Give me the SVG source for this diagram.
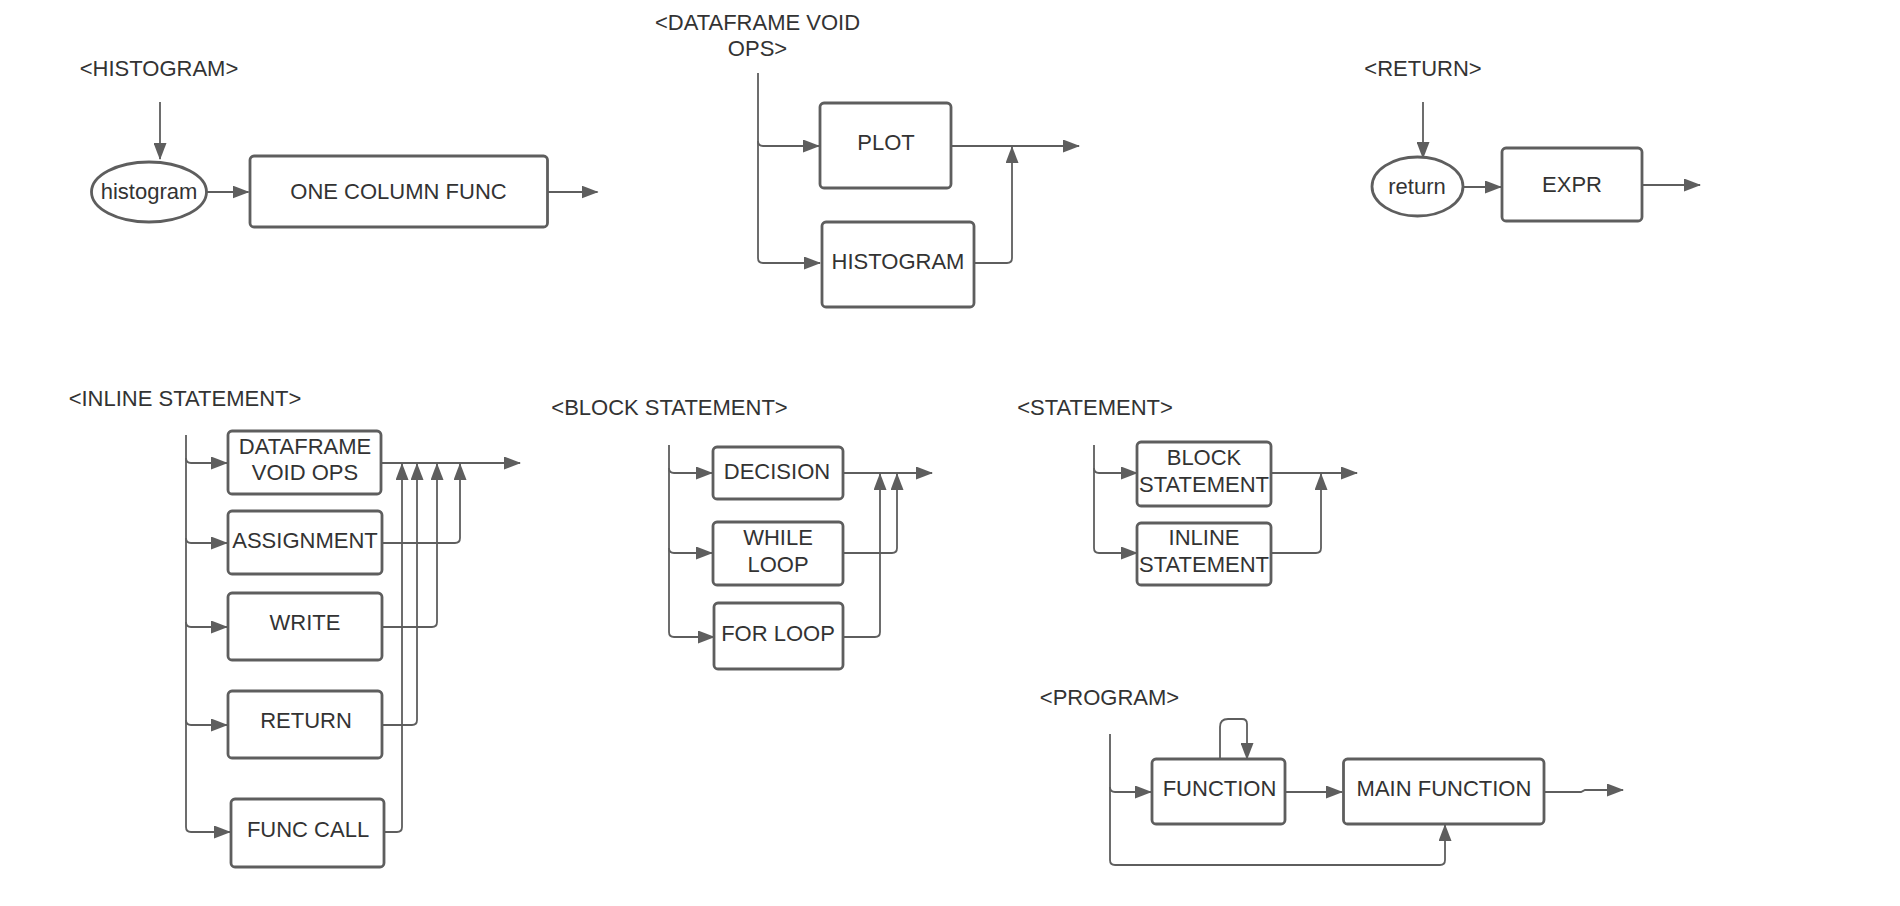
<svg xmlns="http://www.w3.org/2000/svg" width="1900" height="906" viewBox="0 0 1900 906">
<style>
text{font-family:"Liberation Sans",Arial,sans-serif;font-size:22px;fill:#333333}
.c{text-anchor:middle}
.box{fill:#ffffff;stroke:#5e5e5e;stroke-width:2.8}
.con path{fill:none;stroke:#5e5e5e;stroke-width:1.8}
.con path.a{marker-end:url(#ah)}
</style>
<defs>
<marker id="ah" markerUnits="userSpaceOnUse" markerWidth="17" markerHeight="13" refX="16" refY="6.5" orient="auto">
<path d="M0,0 L17,6.5 L0,13 z" fill="#5e5e5e"/>
</marker>
</defs>
<rect width="1900" height="906" fill="#ffffff"/>

<g id="headers">
<text class="c" x="159" y="76">&lt;HISTOGRAM&gt;</text>
<text class="c" x="757.5" y="30">&lt;DATAFRAME VOID</text>
<text class="c" x="757.5" y="56">OPS&gt;</text>
<text class="c" x="1423" y="76">&lt;RETURN&gt;</text>
<text class="c" x="185" y="406">&lt;INLINE STATEMENT&gt;</text>
<text class="c" x="669.5" y="415">&lt;BLOCK STATEMENT&gt;</text>
<text class="c" x="1095" y="415">&lt;STATEMENT&gt;</text>
<text class="c" x="1109.5" y="705">&lt;PROGRAM&gt;</text>
</g>

<g id="connectors" class="con">
<!-- histogram -->
<path class="a" d="M160,102 V159"/>
<path class="a" d="M206.5,192 H248.5"/>
<path class="a" d="M547.5,192 H597.5"/>
<!-- dataframe void ops -->
<path class="a" d="M758,73 V258 Q758,263 763,263 H820"/>
<path class="a" d="M758,141 Q758,146 763,146 H819"/>
<path class="a" d="M951,146 H1079"/>
<path class="a" d="M974,263 H1007 Q1012,263 1012,258 V147"/>
<!-- return -->
<path class="a" d="M1423,102 V158"/>
<path class="a" d="M1463,187 H1501"/>
<path class="a" d="M1642,185 H1700"/>
<!-- inline statement -->
<path class="a" d="M186,435 V827 Q186,832 191,832 H230"/>
<path class="a" d="M186,458 Q186,463 191,463 H227"/>
<path class="a" d="M186,538 Q186,543 191,543 H227"/>
<path class="a" d="M186,622 Q186,627 191,627 H227"/>
<path class="a" d="M186,720 Q186,725 191,725 H227"/>
<path class="a" d="M381,463 H520"/>
<path class="a" d="M382,543 H455 Q460,543 460,538 V464"/>
<path class="a" d="M382,627 H432 Q437,627 437,622 V464"/>
<path class="a" d="M382,725 H412 Q417,725 417,720 V464"/>
<path class="a" d="M384,832 H397 Q402,832 402,827 V464"/>
<!-- block statement -->
<path class="a" d="M669,445 V632 Q669,637 674,637 H714"/>
<path class="a" d="M669,468 Q669,473 674,473 H712"/>
<path class="a" d="M669,548 Q669,553 674,553 H712"/>
<path class="a" d="M843,473 H932"/>
<path class="a" d="M843,553 H892 Q897,553 897,548 V474"/>
<path class="a" d="M843,637 H875 Q880,637 880,632 V474"/>
<!-- statement -->
<path class="a" d="M1094,445 V548 Q1094,553 1099,553 H1137"/>
<path class="a" d="M1094,468 Q1094,473 1099,473 H1137"/>
<path class="a" d="M1271,473 H1357"/>
<path class="a" d="M1271,553 H1316 Q1321,553 1321,548 V474"/>
<!-- program -->
<path class="a" d="M1110,734 V787 Q1110,792 1115,792 H1151"/>
<path class="a" d="M1110,787 V860 Q1110,865 1115,865 H1440 Q1445,865 1445,860 V825"/>
<path class="a" d="M1220,759 V727 Q1220,719 1228,719 H1242 Q1247,719 1247,724 V759"/>
<path class="a" d="M1285,792 H1342"/>
<path class="a" d="M1544,792 H1581 L1585,790 H1623"/>
</g>

<g id="n-histogram-kw"><ellipse class="box" cx="149" cy="192" rx="57.5" ry="30"/><text class="c" x="149" y="199">histogram</text></g>
<g id="n-one-column-func"><rect class="box" x="250" y="156" width="297.5" height="71" rx="4"/><text class="c" x="398.5" y="199">ONE COLUMN FUNC</text></g>

<g id="n-plot"><rect class="box" x="820" y="103" width="131" height="85" rx="4"/><text class="c" x="886" y="150">PLOT</text></g>
<g id="n-histogram"><rect class="box" x="822" y="222" width="152" height="85" rx="4"/><text class="c" x="898" y="269">HISTOGRAM</text></g>

<g id="n-return-kw"><ellipse class="box" cx="1417.5" cy="186.5" rx="45.5" ry="29.5"/><text class="c" x="1417" y="194">return</text></g>
<g id="n-expr"><rect class="box" x="1502" y="148" width="140" height="73" rx="4"/><text class="c" x="1572" y="192">EXPR</text></g>

<g id="n-dfvoidops"><rect class="box" x="228" y="431" width="153" height="63" rx="4"/><text class="c" x="305" y="454">DATAFRAME</text><text class="c" x="305" y="480">VOID OPS</text></g>
<g id="n-assignment"><rect class="box" x="228" y="511" width="154" height="63" rx="4"/><text class="c" x="305" y="548">ASSIGNMENT</text></g>
<g id="n-write"><rect class="box" x="228" y="593" width="154" height="67" rx="4"/><text class="c" x="305" y="630">WRITE</text></g>
<g id="n-return"><rect class="box" x="228" y="691" width="154" height="67" rx="4"/><text class="c" x="306" y="728">RETURN</text></g>
<g id="n-funccall"><rect class="box" x="231" y="799" width="153" height="68" rx="4"/><text class="c" x="308" y="837">FUNC CALL</text></g>

<g id="n-decision"><rect class="box" x="713" y="447" width="130" height="52" rx="4"/><text class="c" x="777" y="479">DECISION</text></g>
<g id="n-whileloop"><rect class="box" x="713" y="522" width="130" height="63" rx="4"/><text class="c" x="778" y="545">WHILE</text><text class="c" x="778" y="572">LOOP</text></g>
<g id="n-forloop"><rect class="box" x="714" y="603" width="129" height="66" rx="4"/><text class="c" x="778" y="641">FOR LOOP</text></g>

<g id="n-blockstmt"><rect class="box" x="1137" y="442" width="134" height="64" rx="4"/><text class="c" x="1204" y="465">BLOCK</text><text class="c" x="1204" y="492">STATEMENT</text></g>
<g id="n-inlinestmt"><rect class="box" x="1137" y="523" width="134" height="62" rx="4"/><text class="c" x="1204" y="545">INLINE</text><text class="c" x="1204" y="572">STATEMENT</text></g>

<g id="n-function"><rect class="box" x="1152" y="759" width="133" height="65" rx="4"/><text class="c" x="1219.5" y="796">FUNCTION</text></g>
<g id="n-mainfunction"><rect class="box" x="1343.5" y="759" width="200.5" height="65" rx="4"/><text class="c" x="1444" y="796">MAIN FUNCTION</text></g>
</svg>
